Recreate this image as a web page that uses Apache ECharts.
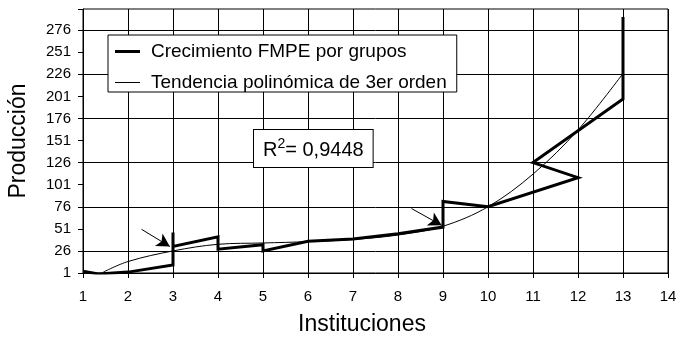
<!DOCTYPE html>
<html><head><meta charset="utf-8">
<script src="https://cdn.jsdelivr.net/npm/echarts@6/dist/echarts.min.js"></script>
<style>html,body{margin:0;padding:0;background:#fff}#c{width:676px;height:337px}</style>
</head><body><div id="c"></div>
<script>
// ---- data ----
const seriesNames = ['Crecimiento FMPE por grupos', 'Tendencia polinómica de 3er orden'];
const growthX = [1, 1.34, 2, 3, 3, 3, 4, 4, 5, 5, 6, 7, 8, 9, 9, 10, 12, 11, 13, 13];
const growthY = [3, 0, 2, 10, 47, 31, 42, 28, 33, 26, 37, 39.5, 45.5, 53, 82, 76, 109, 126, 198, 291];
const trendX = [1.45, 2, 3, 4, 5, 6, 7, 8, 9, 10, 11, 12, 13];
const trendY = [2, 14, 26, 33.5, 35, 36.5, 39, 44, 54, 76, 113, 163, 227];
const xRange = [1, 14, 1];
const yRange = [1, 300, 25];
const arrowFrom = [[2.30, 50.5], [8.30, 74]];
const arrowTo = [[2.93, 31], [8.97, 55]];
const r2Value = '0,9448';
const xTitle = 'Instituciones';
const yTitle = 'Producción';

const F = "'Liberation Sans', Arial, Helvetica, sans-serif";

const chart = echarts.init(document.getElementById('c'), null, {renderer: 'canvas'});
const growthData = growthX.map((x, i) => [x, growthY[i]]);
const trendData = trendX.map((x, i) => [x, trendY[i]]);
const arrows = arrowFrom.map((p, i) => [{coord: p}, {coord: arrowTo[i]}]);

chart.setOption({
  animation: false,
  backgroundColor: '#fff',
  grid: {left: 83, right: 8, top: 9, bottom: 64, containLabel: false, outerBoundsMode: 'none',
    show: true, borderColor: '#000', borderWidth: 1, backgroundColor: 'transparent'},
  xAxis: {
    type: 'value', min: xRange[0], max: xRange[1], interval: xRange[2],
    name: xTitle, nameLocation: 'middle', nameGap: 40,
    nameTextStyle: {fontFamily: F, fontSize: 23, color: '#000', padding: [0, 27, 0, 0]},
    axisLine: {show: true, onZero: false, lineStyle: {color: '#000', width: 1}},
    axisTick: {show: true, inside: false, length: 5, lineStyle: {color: '#000'}},
    axisLabel: {fontFamily: F, fontSize: 15, color: '#000', margin: 16},
    splitLine: {show: true, lineStyle: {color: '#000', width: 1}}
  },
  yAxis: {
    type: 'value', min: yRange[0], max: yRange[1], interval: yRange[2],
    name: yTitle, nameLocation: 'middle', nameGap: 53, nameRotate: 90,
    nameTextStyle: {fontFamily: F, fontSize: 23, color: '#000'},
    axisLine: {show: true, onZero: false, lineStyle: {color: '#000', width: 1}},
    axisTick: {show: true, inside: false, length: 5, lineStyle: {color: '#000'}},
    axisLabel: {fontFamily: F, fontSize: 15, color: '#000', margin: 12,
      formatter: v => (v === yRange[1] ? '' : String(v))},
    splitLine: {show: true, lineStyle: {color: ['rgba(0,0,0,0)', '#000'], width: 1}}
  },
  legend: {
    orient: 'vertical', left: 108, top: 35,
    backgroundColor: '#fff', borderColor: '#000', borderWidth: 1,
    padding: [7, 10, 0, 7], itemGap: 12, itemWidth: 25, itemHeight: 18,
    textStyle: {fontFamily: F, fontSize: 19, color: '#000', padding: [0, 0, 0, 6]},
    itemStyle: {color: '#000', borderWidth: 0},
    data: [
      {name: seriesNames[0], icon: 'path://M0,0H25V3H0Z'},
      {name: seriesNames[1], icon: 'path://M0,0H25V1H0Z'}
    ]
  },
  graphic: [{
    type: 'text', left: 253, top: 129, z: 100,
    style: {
      text: '{b|R}{s|2}{b|= ' + r2Value + '}',
      rich: {
        b: {fontFamily: F, fontSize: 20, lineHeight: 23, verticalAlign: 'bottom', fill: '#000'},
        s: {fontFamily: F, fontSize: 14, lineHeight: 23, verticalAlign: 'top', fill: '#000'}
      },
      backgroundColor: '#fff', borderColor: '#000', borderWidth: 1,
      padding: [7, 9, 7, 9]
    }
  }],
  series: [
    {
      name: seriesNames[0], type: 'line', data: growthData, symbol: 'none', z: 5,
      lineStyle: {color: '#000', width: 3, join: 'miter'}, itemStyle: {color: '#000'},
      markLine: {
        silent: true, symbol: ['none', 'arrow'], symbolSize: [11, 13],
        label: {show: false}, lineStyle: {color: '#000', width: 1, type: 'solid'},
        data: arrows
      }
    },
    {
      name: seriesNames[1], type: 'line', data: trendData, symbol: 'none', smooth: 0.35, z: 4,
      lineStyle: {color: '#000', width: 1}, itemStyle: {color: '#000'}
    }
  ]
});
</script></body></html>
